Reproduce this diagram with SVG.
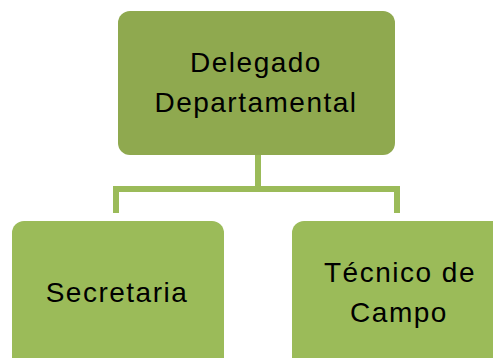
<svg xmlns="http://www.w3.org/2000/svg" width="493" height="358" viewBox="0 0 493 358">
<style>
.top{fill:#8fa94f}
.box{fill:#9bbb59}
.t{font-family:"Liberation Sans","Open Sans",sans-serif;font-size:28px;fill:#000;text-anchor:middle;letter-spacing:1.5px}
.c{fill:none;stroke:#9bbb59;stroke-width:6}
</style>
<rect width="493" height="358" fill="#fff"/>
<g id="connectors">
<path class="c" d="M258 155 V189 M116 213 V189 H397 V213"/>
</g>
<g id="delegado">
<rect class="top" x="118" y="11" width="277" height="144" rx="12"/>
<text class="t" x="256" y="72">Delegado</text>
<text class="t" x="256" y="112">Departamental</text>
</g>
<g id="secretaria">
<rect class="box" x="12" y="221" width="212" height="150" rx="12"/>
<text class="t" x="117" y="302">Secretaria</text>
</g>
<g id="tecnico">
<rect class="box" x="292" y="221" width="215" height="150" rx="12"/>
<text class="t" x="400" y="282">Técnico de</text>
<text class="t" x="399" y="322">Campo</text>
</g>
</svg>
